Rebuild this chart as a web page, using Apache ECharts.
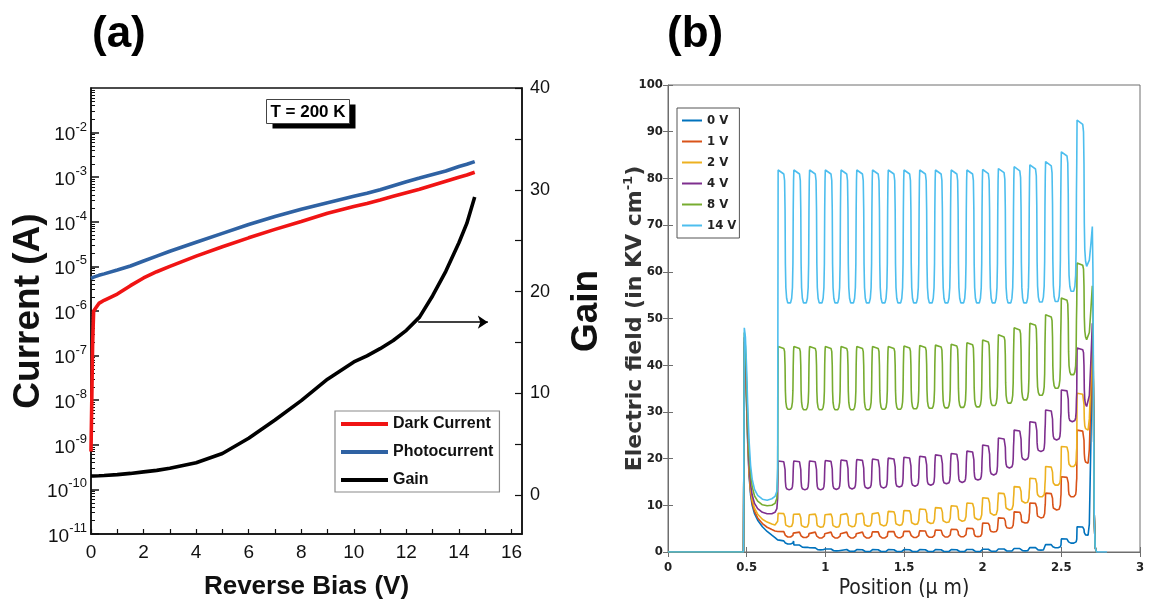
<!DOCTYPE html>
<html>
<head>
<meta charset="utf-8">
<script src="https://cdn.jsdelivr.net/npm/echarts@6/dist/echarts.min.js"></script>
<style>
  html, body { margin: 0; padding: 0; background: #fff; }
  #chart { width: 1152px; height: 608px; }
</style>
</head>
<body>
<div id="chart"></div>
<script>
// ---------- (a) current and gain versus reverse bias, T = 200 K ----------
const biasV = [0, 0.03, 0.06, 0.1, 0.3, 0.5, 1, 1.5, 2, 2.5, 3, 4, 5, 6, 7, 8, 9, 10, 10.5, 11, 11.5, 12, 12.5, 13, 13.5, 14, 14.3, 14.6];
const darkCurrent = [7.1e-10, 1.0e-8, 1.6e-7, 1.0e-6, 1.48e-6, 1.74e-6, 2.4e-6, 3.7e-6, 5.5e-6, 7.6e-6, 1.0e-5, 1.7e-5, 2.75e-5, 4.37e-5, 6.76e-5, 1.02e-4, 1.55e-4, 2.19e-4, 2.57e-4, 3.09e-4, 3.72e-4, 4.47e-4, 5.37e-4, 6.61e-4, 8.13e-4, 1.0e-3, 1.12e-3, 1.29e-3];
const photoCurrent = [5.4e-6, 5.5e-6, 5.6e-6, 5.75e-6, 6.3e-6, 6.8e-6, 8.3e-6, 1.02e-5, 1.32e-5, 1.7e-5, 2.19e-5, 3.47e-5, 5.5e-5, 8.7e-5, 1.32e-4, 1.91e-4, 2.69e-4, 3.72e-4, 4.37e-4, 5.25e-4, 6.46e-4, 7.94e-4, 9.55e-4, 1.15e-3, 1.38e-3, 1.74e-3, 1.95e-3, 2.24e-3];
const gain = [1.9, 1.9, 1.9, 1.9, 1.92, 1.95, 2.03, 2.15, 2.3, 2.45, 2.65, 3.2, 4.1, 5.6, 7.4, 9.3, 11.4, 13.1, 13.7, 14.4, 15.2, 16.2, 17.5, 19.6, 22.0, 24.8, 26.7, 29.3];

const biasTickLabels = [0, 2, 4, 6, 8, 10, 12, 14, 16];
const biasTicks = [0, 1, 2, 3, 4, 5, 6, 7, 8, 9, 10, 11, 12, 13, 14, 15, 16];
const currentDecades = [-11, -10, -9, -8, -7, -6, -5, -4, -3, -2];
const gainTickLabels = [0, 10, 20, 30, 40];
const gainTicks = [0, 5, 10, 15, 20, 25, 30, 35, 40];
// arrow pointing from the gain curve to its axis: [bias start, bias end, gain level]
const gainArrow = [12.45, 15.1, 17.0];

// ---------- (b) electric field across the structure ----------
const biasNames = ['0 V', '1 V', '2 V', '4 V', '8 V', '14 V'];
const biasColors = ['#0072BD', '#D95319', '#EDB120', '#7E2F8E', '#77AC30', '#4DBEEE'];
const positionTicks = [0, 0.5, 1, 1.5, 2, 2.5, 3];
const fieldTicks = [0, 10, 20, 30, 40, 50, 60, 70, 80, 90, 100];

// start of each superlattice period (µm)
const layerStart = [0.70, 0.80, 0.90, 1.00, 1.10, 1.20, 1.30, 1.40, 1.50, 1.60, 1.70, 1.80, 1.90, 2.00, 2.10, 2.20, 2.30, 2.40, 2.50, 2.60];
// outline of one period: [offset in µm, share of the drop from plateau to floor]
const cellShape = [[0, 0], [0.036, 0.03], [0.041, 0.08], [0.044, 0.3], [0.046, 0.7], [0.049, 0.88], [0.054, 0.96], [0.061, 0.995], [0.070, 1], [0.079, 0.995], [0.086, 0.96], [0.091, 0.88], [0.094, 0.7], [0.096, 0.3], [0.098, 0.08]];

// field on the high plateau of each period (kV/cm), one row per bias
const fieldTops = [
  [2.4, 1.5, 0.9, 0.65, 0.55, 0.5, 0.5, 0.5, 0.5, 0.5, 0.5, 0.5, 0.55, 0.6, 0.65, 0.75, 0.95, 1.6, 2.8, 5.4],
  [4.4, 4.3, 4.3, 4.3, 4.3, 4.3, 4.35, 4.4, 4.45, 4.55, 4.7, 4.85, 5.1, 6.2, 7.3, 8.6, 10.5, 12.6, 16.1, 26.1],
  [8.3, 8.2, 8.2, 8.2, 8.3, 8.4, 8.5, 8.7, 8.9, 9.2, 9.5, 9.9, 10.5, 11.6, 12.6, 14.0, 15.8, 18.3, 22.6, 34.0],
  [19.5, 19.5, 19.5, 19.6, 19.7, 19.8, 19.9, 20.1, 20.3, 20.5, 20.8, 21.1, 21.6, 22.9, 24.4, 26.1, 27.9, 30.4, 34.7, 43.7],
  [44.0, 44.0, 44.0, 44.0, 44.0, 44.0, 44.0, 44.0, 44.1, 44.2, 44.3, 44.5, 44.8, 45.4, 46.5, 48.0, 49.0, 50.8, 54.4, 61.9],
  [81.8, 81.8, 81.8, 81.8, 81.8, 81.8, 81.8, 81.8, 81.8, 81.8, 81.8, 81.8, 81.8, 81.9, 82.1, 82.5, 82.9, 83.6, 85.7, 92.5]
];
// field at the floor of each period (kV/cm)
const fieldFloors = [
  [1.7, 1.0, 0.45, 0.25, 0.15, 0.1, 0.1, 0.1, 0.1, 0.1, 0.1, 0.1, 0.12, 0.15, 0.2, 0.25, 0.4, 0.9, 1.9, 3.6],
  [3.2, 3.1, 3.0, 3.0, 3.0, 3.0, 3.0, 3.05, 3.1, 3.15, 3.2, 3.25, 3.3, 4.3, 5.1, 6.2, 7.3, 9.0, 11.8, 19.0],
  [5.4, 5.3, 5.3, 5.3, 5.4, 5.5, 5.6, 5.7, 5.9, 6.1, 6.3, 6.6, 6.9, 7.9, 9.0, 10.5, 11.8, 14.3, 18.3, 26.1],
  [13.3, 13.3, 13.3, 13.4, 13.5, 13.6, 13.7, 13.9, 14.1, 14.3, 14.6, 14.9, 15.4, 16.5, 18.0, 19.7, 21.5, 24.0, 27.9, 31.1],
  [30.5, 30.4, 30.4, 30.4, 30.4, 30.4, 30.5, 30.5, 30.6, 30.7, 30.8, 30.9, 31.0, 31.3, 31.8, 32.5, 33.5, 35.0, 37.9, 45.4],
  [53.2, 53.2, 53.2, 53.2, 53.2, 53.2, 53.2, 53.2, 53.2, 53.2, 53.2, 53.2, 53.2, 53.2, 53.2, 53.2, 53.4, 53.5, 55.7, 61.0]
];
// field before the first period: flat contact, spike at the junction, decay
const fieldLead = [
  [[0, 0], [0.480, 0], [0.485, 44], [0.492, 39], [0.499, 32], [0.506, 24], [0.515, 16.5], [0.525, 12.2], [0.535, 10], [0.55, 8.2], [0.57, 6.8], [0.60, 5.4], [0.63, 4.4], [0.66, 3.6], [0.68, 3.1], [0.692, 2.8], [0.697, 2.6]],
  [[0, 0], [0.480, 0], [0.485, 45], [0.492, 40], [0.499, 33], [0.506, 25], [0.515, 17], [0.525, 12.8], [0.535, 10.5], [0.55, 8.7], [0.57, 7.3], [0.60, 6.1], [0.63, 5.3], [0.66, 4.8], [0.68, 4.5], [0.692, 4.4], [0.697, 4.4]],
  [[0, 0], [0.480, 0], [0.485, 45], [0.492, 41], [0.499, 34], [0.506, 26], [0.515, 18], [0.525, 13.5], [0.535, 11.2], [0.55, 9.4], [0.57, 8.1], [0.60, 7.0], [0.63, 6.4], [0.66, 6.0], [0.68, 5.8], [0.692, 5.9], [0.697, 6.6]],
  [[0, 0], [0.480, 0], [0.485, 46], [0.492, 42], [0.499, 35], [0.506, 27], [0.515, 19], [0.525, 14.5], [0.535, 12.2], [0.55, 10.4], [0.57, 9.3], [0.60, 8.5], [0.63, 8.2], [0.66, 8.2], [0.68, 8.5], [0.692, 9.3], [0.697, 11.5]],
  [[0, 0], [0.480, 0], [0.485, 47], [0.492, 44], [0.499, 37], [0.506, 29], [0.515, 21], [0.525, 16.5], [0.535, 14], [0.55, 12], [0.57, 10.9], [0.60, 10.1], [0.63, 9.9], [0.66, 10.0], [0.68, 10.4], [0.692, 11.5], [0.697, 16]],
  [[0, 0], [0.480, 0], [0.485, 48], [0.492, 46], [0.499, 40], [0.506, 32], [0.515, 24], [0.525, 18.5], [0.535, 15.6], [0.55, 13.4], [0.57, 12.1], [0.60, 11.3], [0.63, 11.1], [0.66, 11.4], [0.68, 11.9], [0.692, 13], [0.697, 18]]
];
// field after the last period: final spike and return to zero
const fieldTail = [
  [[2.678, 6], [2.688, 24], [2.697, 45], [2.701, 42], [2.705, 30], [2.709, 8], [2.715, 1], [2.724, 0]],
  [[2.678, 22], [2.688, 33], [2.697, 46], [2.701, 43], [2.705, 30], [2.709, 8], [2.715, 1], [2.724, 0]],
  [[2.678, 28.5], [2.688, 37], [2.697, 47], [2.701, 44], [2.705, 30], [2.709, 8], [2.715, 1], [2.724, 0]],
  [[2.678, 33.5], [2.688, 41], [2.697, 49], [2.701, 46], [2.705, 30], [2.709, 8], [2.715, 1], [2.724, 0]],
  [[2.678, 47], [2.688, 52], [2.697, 57], [2.701, 52], [2.705, 30], [2.709, 8], [2.715, 1], [2.724, 0]],
  [[2.678, 62.5], [2.688, 66], [2.697, 69.7], [2.701, 60], [2.705, 30], [2.709, 8], [2.715, 1], [2.724, 0], [2.79, 0]]
];

// ---------- helpers ----------
const SANS = "'Liberation Sans', Arial, Helvetica, sans-serif";
const NARROW = "'Liberation Sans Narrow', 'Arial Narrow', 'DejaVu Sans Condensed', 'Liberation Sans', sans-serif";
const WIDE = "'DejaVu Sans', Verdana, sans-serif";

const pair = (xs, ys) => xs.map((x, i) => [x, ys[i]]);

function fieldProfile(i) {
  const pts = fieldLead[i].slice();
  const last = layerStart.length - 1;
  layerStart.forEach((x0, k) => {
    cellShape.forEach(([dx, share]) => {
      if (k === last && dx > 0.0705) return;
      const v = fieldTops[i][k] + (fieldFloors[i][k] - fieldTops[i][k]) * share;
      pts.push([+(x0 + dx).toFixed(4), +v.toFixed(3)]);
    });
  });
  return pts.concat(fieldTail[i]);
}

const decadeValues = currentDecades.map(e => Math.pow(10, e));
const minorCurrentTicks = [];
currentDecades.forEach(e => {
  for (let m = 2; m <= 9; m++) minorCurrentTicks.push(m * Math.pow(10, e));
});
for (let m = 2; m <= 9; m++) minorCurrentTicks.push(m * 1e-2);

const BLACK = '#111';
const GREY = '#6e6e6e';

const fieldSeries = biasNames.map((name, i) => ({
  type: 'line',
  name: name,
  xAxisIndex: 1,
  yAxisIndex: 3,
  data: fieldProfile(i),
  showSymbol: false,
  symbol: 'none',
  smooth: false,
  clip: true,
  color: biasColors[i],
  lineStyle: { color: biasColors[i], width: 1.6 },
  itemStyle: { color: biasColors[i] },
  z: 3 + i
}));

const chart = echarts.init(document.getElementById('chart'), null, { renderer: 'canvas' });

const option = {
  animation: false,
  backgroundColor: '#ffffff',
  grid: [
    { left: 91, right: 630, top: 88, bottom: 74, show: true, borderColor: BLACK, borderWidth: 1.5, backgroundColor: 'transparent', containLabel: false, outerBoundsMode: 'none' },
    { left: 668, right: 12, top: 85, bottom: 56, show: true, borderColor: GREY, borderWidth: 1, backgroundColor: 'transparent', containLabel: false, outerBoundsMode: 'none' }
  ],
  legend: [
    {
      data: ['Dark Current', 'Photocurrent', 'Gain'],
      orient: 'vertical',
      left: 335, top: 411,
      icon: 'rect',
      itemWidth: 47, itemHeight: 4, itemGap: 12,
      padding: [5, 6, 4, 6],
      backgroundColor: '#fff',
      borderColor: '#8a8a8a', borderWidth: 1.2,
      textStyle: { fontFamily: SANS, fontSize: 16, fontWeight: 'bold', color: BLACK },
      selectedMode: false
    },
    {
      data: biasNames,
      orient: 'vertical',
      left: 677, top: 108,
      icon: 'rect',
      itemWidth: 20, itemHeight: 2, itemGap: 8,
      padding: [6, 3, 6, 5],
      backgroundColor: '#fff',
      borderColor: '#555', borderWidth: 1,
      textStyle: { fontFamily: NARROW, fontSize: 13, fontWeight: 'bold', color: '#222' },
      selectedMode: false
    }
  ],
  xAxis: [
    {
      gridIndex: 0, type: 'value', min: 0, max: 16.4, position: 'bottom',
      axisLine: { show: true, onZero: false, lineStyle: { color: BLACK, width: 1.5 } },
      axisTick: { show: true, inside: true, length: 5, customValues: biasTicks, lineStyle: { color: BLACK, width: 1.2 } },
      axisLabel: { customValues: biasTickLabels, fontFamily: SANS, fontSize: 19, color: BLACK, margin: 9 },
      splitLine: { show: false },
      name: 'Reverse Bias (V)', nameLocation: 'middle', nameGap: 40, nameMoveOverlap: false,
      nameTextStyle: { fontFamily: SANS, fontSize: 26, fontWeight: 'bold', color: BLACK }
    },
    {
      gridIndex: 1, type: 'value', min: 0, max: 3, position: 'bottom',
      axisLine: { show: true, onZero: false, lineStyle: { color: GREY, width: 1 } },
      axisTick: { show: true, inside: true, length: 5, customValues: positionTicks, lineStyle: { color: GREY, width: 1 } },
      axisLabel: { customValues: positionTicks, fontFamily: NARROW, fontSize: 13, fontWeight: 'bold', color: '#222', margin: 9 },
      splitLine: { show: false },
      name: 'Position (\u03bc m)', nameLocation: 'middle', nameGap: 26, nameMoveOverlap: false,
      nameTextStyle: { fontFamily: NARROW, fontSize: 21, color: '#222' }
    },
    {
      gridIndex: 1, type: 'value', min: 0, max: 3, position: 'top',
      axisLine: { show: false },
      axisTick: { show: true, inside: true, length: 5, customValues: positionTicks, lineStyle: { color: GREY, width: 1 } },
      axisLabel: { show: false },
      splitLine: { show: false }
    }
  ],
  yAxis: [
    {
      gridIndex: 0, type: 'log', logBase: 10, min: 1e-11, max: 1e-1, splitNumber: 10, position: 'left',
      axisLine: { show: true, lineStyle: { color: BLACK, width: 1.5 } },
      axisTick: { show: true, inside: true, length: 8, customValues: decadeValues, lineStyle: { color: BLACK, width: 1.5 } },
      axisLabel: {
        customValues: decadeValues,
        margin: 4,
        formatter: function (v) {
          const e = Math.round(Math.log10(v));
          if (e > -2) return '';
          return '{b|10}{s|' + e + '}';
        },
        rich: {
          b: { fontFamily: SANS, fontSize: 19, color: BLACK, lineHeight: 24, verticalAlign: 'bottom' },
          s: { fontFamily: SANS, fontSize: 13, color: BLACK, lineHeight: 24, verticalAlign: 'top' }
        }
      },
      splitLine: { show: false },
      name: 'Current (A)', nameLocation: 'middle', nameGap: 44, nameRotate: 90, nameMoveOverlap: false,
      nameTextStyle: { fontFamily: SANS, fontSize: 37, fontWeight: 'bold', color: BLACK }
    },
    {
      gridIndex: 0, type: 'log', logBase: 10, min: 1e-11, max: 1e-1, splitNumber: 10, position: 'left',
      axisLine: { show: false },
      axisTick: { show: true, inside: true, length: 4, customValues: minorCurrentTicks, lineStyle: { color: BLACK, width: 1 } },
      axisLabel: { show: false },
      splitLine: { show: false }
    },
    {
      gridIndex: 0, type: 'value', min: -3.8, max: 40, position: 'right',
      axisLine: { show: true, onZero: false, lineStyle: { color: BLACK, width: 1.5 } },
      axisTick: { show: true, inside: true, length: 7, customValues: gainTicks, lineStyle: { color: BLACK, width: 1.2 } },
      axisLabel: { customValues: gainTickLabels, fontFamily: SANS, fontSize: 18, color: BLACK, margin: 8 },
      splitLine: { show: false },
      name: 'Gain', nameLocation: 'middle', nameGap: 46, nameRotate: 90, nameMoveOverlap: false,
      nameTextStyle: { fontFamily: SANS, fontSize: 37, fontWeight: 'bold', color: BLACK }
    },
    {
      gridIndex: 1, type: 'value', min: 0, max: 100, position: 'left',
      axisLine: { show: true, onZero: false, lineStyle: { color: GREY, width: 1 } },
      axisTick: { show: true, inside: true, length: 5, customValues: fieldTicks, lineStyle: { color: GREY, width: 1 } },
      axisLabel: { customValues: fieldTicks, fontFamily: NARROW, fontSize: 13, fontWeight: 'bold', color: '#222', margin: 5 },
      splitLine: { show: false },
      name: 'Electric field (in KV cm{sup|-1})', nameLocation: 'middle', nameGap: 20, nameRotate: 90, nameMoveOverlap: false,
      nameTextStyle: {
        fontFamily: WIDE, fontSize: 22, fontWeight: 'bold', color: '#333', lineHeight: 26,
        rich: { sup: { fontFamily: WIDE, fontSize: 13, fontWeight: 'bold', color: '#333', lineHeight: 26, verticalAlign: 'top' } }
      }
    },
    {
      gridIndex: 1, type: 'value', min: 0, max: 100, position: 'right',
      axisLine: { show: false },
      axisTick: { show: true, inside: true, length: 5, customValues: fieldTicks, lineStyle: { color: GREY, width: 1 } },
      axisLabel: { show: false },
      splitLine: { show: false }
    }
  ],
  series: [
    {
      type: 'line', name: 'Photocurrent', xAxisIndex: 0, yAxisIndex: 0,
      data: pair(biasV, photoCurrent),
      showSymbol: false, symbol: 'none', color: '#2f62a3',
      lineStyle: { color: '#2f62a3', width: 3.6 }, itemStyle: { color: '#2f62a3' }, z: 3
    },
    {
      type: 'line', name: 'Dark Current', xAxisIndex: 0, yAxisIndex: 0,
      data: pair(biasV, darkCurrent),
      showSymbol: false, symbol: 'none', color: '#f01414',
      lineStyle: { color: '#f01414', width: 3.6 }, itemStyle: { color: '#f01414' }, z: 4
    },
    {
      type: 'line', name: 'Gain', xAxisIndex: 0, yAxisIndex: 2,
      data: pair(biasV, gain),
      showSymbol: false, symbol: 'none', color: '#000',
      lineStyle: { color: '#000', width: 3.6 }, itemStyle: { color: '#000' }, z: 5,
      markLine: {
        silent: true,
        symbol: ['none', 'arrow'],
        symbolSize: 10,
        label: { show: false },
        lineStyle: { color: '#000', width: 1.6, type: 'solid' },
        data: [[{ coord: [gainArrow[0], gainArrow[2]] }, { coord: [gainArrow[1], gainArrow[2]] }]]
      }
    }
  ].concat(fieldSeries),
  graphic: [
    { type: 'text', left: 92, top: 13, style: { text: '(a)', font: "bold 44px 'Liberation Sans', Arial, sans-serif", fill: '#000' } },
    { type: 'text', left: 667, top: 13, style: { text: '(b)', font: "bold 44px 'Liberation Sans', Arial, sans-serif", fill: '#000' } },
    {
      type: 'group', left: 266, top: 99,
      children: [
        { type: 'rect', shape: { x: 6, y: 5, width: 83, height: 24 }, style: { fill: '#000' } },
        { type: 'rect', shape: { x: 0, y: 0, width: 83, height: 24 }, style: { fill: '#fff', stroke: '#444', lineWidth: 1 } },
        { type: 'text', x: 41.5, y: 12.5, style: { text: 'T = 200 K', font: "bold 17px 'Liberation Sans', Arial, sans-serif", fill: '#000', align: 'center', verticalAlign: 'middle' } }
      ]
    }
  ]
};

chart.setOption(option);
</script>
</body>
</html>
